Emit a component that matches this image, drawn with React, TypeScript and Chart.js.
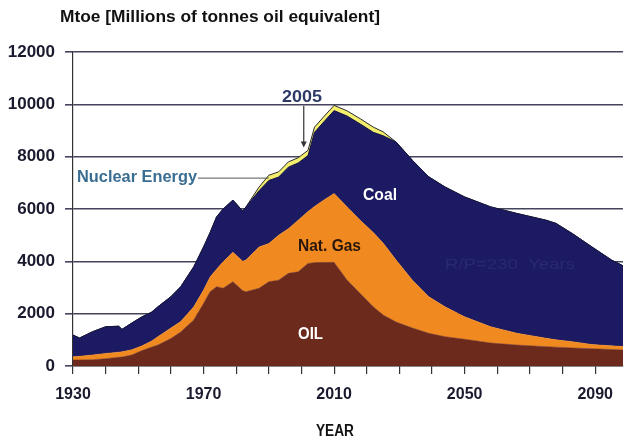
import React, { useEffect, useRef } from "react";
import { Chart, registerables } from "chart.js";

Chart.register(...registerables);

const years = [1930, 1932, 1936, 1940, 1944, 1945, 1948, 1951, 1954, 1956, 1960, 1963, 1967, 1970, 1972, 1974, 1976, 1979, 1982, 1983, 1987, 1990, 1993, 1996, 1999, 2002, 2004, 2007, 2010, 2014, 2018, 2022, 2025, 2029, 2034, 2039, 2044, 2050, 2058, 2066, 2075, 2078, 2083, 2089, 2095, 2099];
const oil = [230, 230, 240, 280, 330, 340, 420, 580, 720, 800, 1050, 1300, 1760, 2390, 2840, 3030, 2970, 3220, 2880, 2840, 2970, 3220, 3280, 3540, 3600, 3920, 3950, 3960, 3960, 3280, 2770, 2260, 1950, 1680, 1450, 1250, 1120, 1020, 880, 800, 740, 720, 690, 660, 630, 610];
const natGas = [125, 140, 180, 200, 200, 200, 200, 180, 230, 320, 400, 400, 500, 510, 560, 670, 1010, 1130, 1120, 1210, 1580, 1460, 1720, 1710, 1970, 1980, 2150, 2390, 2630, 2800, 2800, 2840, 2750, 2370, 1830, 1400, 1140, 860, 620, 450, 320, 280, 240, 160, 140, 130];
const coal = [825, 700, 890, 1020, 990, 860, 1020, 1110, 1100, 1140, 1200, 1330, 1530, 1650, 1700, 2000, 2020, 1990, 1920, 2030, 2150, 2410, 2220, 2350, 2190, 2140, 2830, 3000, 3170, 3470, 3680, 3830, 4100, 4510, 4580, 4580, 4580, 4580, 4580, 4580, 4510, 4450, 4130, 3730, 3280, 3060];
const nuclear = [0, 0, 0, 0, 0, 0, 0, 0, 0, 0, 0, 0, 0, 0, 0, 0, 0, 0, 0, 0, 140, 200, 200, 200, 200, 200, 200, 200, 200, 200, 200, 200, 150, 0, 0, 0, 0, 0, 0, 0, 0, 0, 0, 0, 0, 0];
const xTickYears = [1930, 1940, 1950, 1960, 1970, 1980, 1990, 2000, 2010, 2020, 2030, 2040, 2050, 2060, 2070, 2080, 2090];
const xLabelYears = [1930, 1970, 2010, 2050, 2090];

const FONT = '"Liberation Sans", Arial, Helvetica, sans-serif';

function drawFit(ctx: CanvasRenderingContext2D, text: string, left: number, y: number, width: number, font: string, color: string) {
  ctx.save();
  ctx.font = font;
  ctx.fillStyle = color;
  ctx.textBaseline = "middle";
  ctx.textAlign = "left";
  const w = ctx.measureText(text).width;
  ctx.translate(left, y);
  ctx.scale(width / w, 1);
  ctx.fillText(text, 0, 0);
  ctx.restore();
}

const annotationPlugin = {
  id: "annotations",
  afterDraw(chart: any) {
    const ctx: CanvasRenderingContext2D = chart.ctx;
    const xs = chart.scales.x;
    const ys = chart.scales.y;
    drawFit(ctx, "Mtoe [Millions of tonnes oil equivalent]", 60, 18, 320, `bold 16px ${FONT}`, "#111");
    drawFit(ctx, "2005", 282, 97, 40, `bold 17px ${FONT}`, "#2d3a66");
    drawFit(ctx, "Nuclear Energy", 77, 177, 120, `bold 17px ${FONT}`, "#3a6d92");
    drawFit(ctx, "Coal", 363, 196, 34, `bold 16px ${FONT}`, "#ffffff");
    drawFit(ctx, "Nat. Gas", 298, 247, 63, `bold 16px ${FONT}`, "#2a160c");
    drawFit(ctx, "OIL", 298, 335, 25, `bold 16px ${FONT}`, "#ffffff");
    drawFit(ctx, "R/P=230  Years", 445, 265, 130, `15px ${FONT}`, "rgba(75,75,150,0.3)");
    drawFit(ctx, "YEAR", 316, 432, 38, `bold 16px ${FONT}`, "#111");

    ctx.save();
    ctx.strokeStyle = "#333";
    ctx.fillStyle = "#333";
    ctx.lineWidth = 1.2;
    const ax = xs.getPixelForValue(2000.7);
    const ay1 = ys.getPixelForValue(9950);
    const ay2 = ys.getPixelForValue(8350);
    ctx.beginPath();
    ctx.moveTo(ax, ay1);
    ctx.lineTo(ax, ay2 - 5);
    ctx.stroke();
    ctx.beginPath();
    ctx.moveTo(ax - 3, ay2 - 6);
    ctx.lineTo(ax + 3, ay2 - 6);
    ctx.lineTo(ax, ay2);
    ctx.closePath();
    ctx.fill();
    const ly = ys.getPixelForValue(7180);
    ctx.strokeStyle = "#555";
    ctx.lineWidth = 1;
    ctx.beginPath();
    ctx.moveTo(198, ly);
    ctx.lineTo(xs.getPixelForValue(1990), ly);
    ctx.stroke();
    ctx.restore();
  },
};

export default function App() {
  const ref = useRef<HTMLCanvasElement | null>(null);
  useEffect(() => {
    if (!ref.current) return;
    const mk = (arr: number[]) => years.map((yr, i) => ({ x: yr, y: arr[i] }));
    const chart = new Chart(ref.current, {
      type: "line",
      data: {
        datasets: [
          { label: "OIL", data: mk(oil), backgroundColor: "#6c2a1c", borderColor: "#6c2a1c", borderWidth: 0.5, fill: "origin", pointRadius: 0, tension: 0 },
          { label: "Nat. Gas", data: mk(natGas), backgroundColor: "#f08a20", borderColor: "#f08a20", borderWidth: 0.5, fill: "-1", pointRadius: 0, tension: 0 },
          { label: "Coal", data: mk(coal), backgroundColor: "#1b1a62", borderColor: "#15143f", borderWidth: 1, fill: "-1", pointRadius: 0, tension: 0 },
          { label: "Nuclear Energy", data: mk(nuclear), backgroundColor: "#f3ee6c", borderColor: "#2a2a2a", borderWidth: 1, fill: "-1", pointRadius: 0, tension: 0 },
        ],
      },
      options: {
        animation: false,
        responsive: false,
        devicePixelRatio: 1,
        layout: { padding: { top: 52, right: 0, left: 0, bottom: 0 } },
        plugins: { legend: { display: false }, tooltip: { enabled: false }, title: { display: false } },
        scales: {
          x: {
            type: "linear",
            min: 1930,
            max: 2098.5,
            afterFit: (s: any) => { s.height = 76; },
            afterBuildTicks: (s: any) => { s.ticks = xTickYears.map((v) => ({ value: v })); },
            grid: { drawOnChartArea: false, drawTicks: true, tickLength: 8, color: "#333", lineWidth: 1.2 },
            border: { display: true, color: "#333", width: 1.2 },
            ticks: {
              autoSkip: false,
              maxRotation: 0,
              padding: 11,
              color: "#1a1a2e",
              font: { family: FONT, size: 16, weight: "bold" },
              callback: (v: any) => (xLabelYears.includes(Number(v)) ? String(v) : ""),
            },
          },
          y: {
            stacked: true,
            min: 0,
            max: 12000,
            afterFit: (s: any) => { s.width = 73; },
            grid: { color: "#44445e", lineWidth: 1.6, tickLength: 8 },
            border: { display: true, color: "#333", width: 1.2 },
            ticks: {
              stepSize: 2000,
              padding: 10,
              color: "#1a1a2e",
              font: { family: FONT, size: 17, weight: "bold" },
              callback: (v: any) => String(v),
            },
          },
        },
      },
      plugins: [annotationPlugin],
    });
    return () => chart.destroy();
  }, []);
  return (
    <div style={{ position: "fixed", left: 0, top: 0, width: 624, height: 442, background: "#fff" }}>
      <canvas ref={ref} width={624} height={442} style={{ display: "block" }} />
    </div>
  );
}
